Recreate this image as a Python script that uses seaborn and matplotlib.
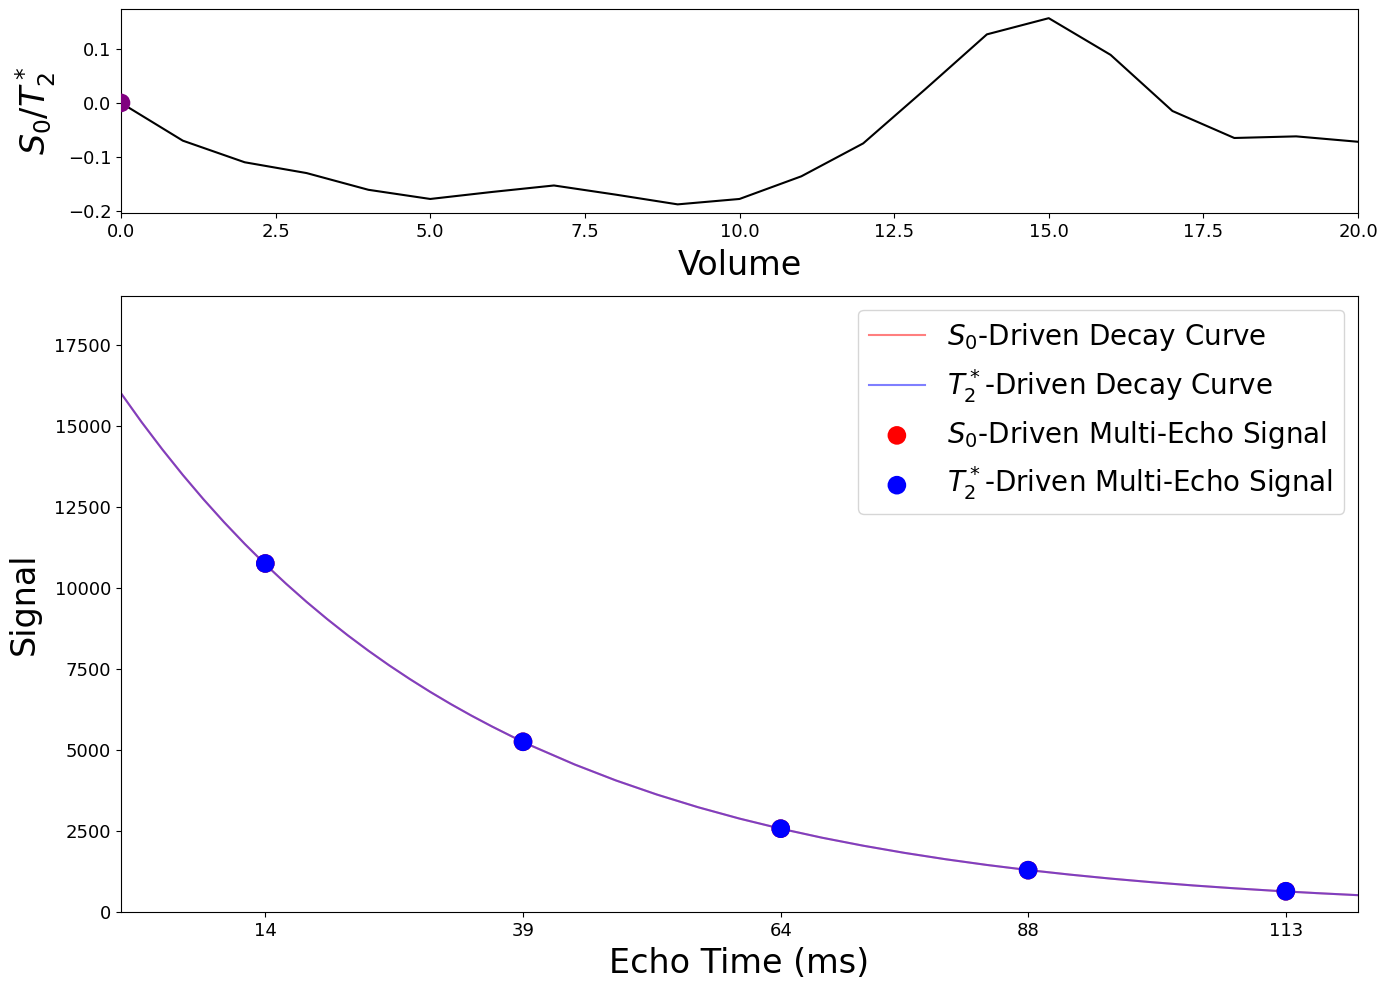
import numpy as np
import pandas as pd
import matplotlib
matplotlib.use("Agg")
import matplotlib.pyplot as plt
import seaborn as sns

# ---- data: top panel (S0/T2* ratio per volume) ----
volume = list(range(21))
ratio = [0.000, -0.070, -0.110, -0.130, -0.161, -0.178, -0.165, -0.153, -0.170,
         -0.188, -0.178, -0.136, -0.075, 0.025, 0.127, 0.157, 0.089, -0.015,
         -0.065, -0.062, -0.072]

# ---- data: bottom panel (decay curves) ----
curve_te = [0, 2, 4, 6, 8, 10, 12, 14, 16, 18, 20, 22, 24, 26, 28, 30, 32, 34, 36,
            38, 40, 44, 48, 52, 56, 60, 64, 68, 72, 76, 80, 84, 88, 92, 96, 100,
            104, 108, 112, 116, 120]
curve_s0 = [16000, 15110, 14272, 13479, 12730, 12023, 11355, 10724, 10129, 9566,
            9035, 8533, 8059, 7611, 7189, 6789, 6412, 6056, 5720, 5402, 5102,
            4551, 4059, 3621, 3230, 2881, 2570, 2292, 2045, 1824, 1627, 1451, 1294,
            1155, 1030, 919, 819, 731, 652, 582, 519]
curve_t2 = list(curve_s0)

echo_times = [14, 39, 64, 88, 113]
signal_s0 = [10750, 5250, 2570, 1290, 640]
signal_t2 = [10750, 5250, 2570, 1290, 640]
echo_labels = ["14", "39", "64", "88", "113"]

fig = plt.figure(figsize=(13.89, 9.89), dpi=100)
ax1 = fig.add_axes([121/1389, 1-213/989, 1237/1389, 204/989])
ax2 = fig.add_axes([121/1389, 1-912/989, 1237/1389, 616/989])

# top panel
top_df = pd.DataFrame({"volume": volume, "ratio": ratio})
sns.lineplot(data=top_df, x="volume", y="ratio", color="black", ax=ax1, lw=1.5)
sns.scatterplot(x=[volume[0]], y=[ratio[0]], color="purple", s=180, ax=ax1,
                edgecolor="none", zorder=5)
ax1.set_xlim(0, 20)
ax1.set_xticks([0, 2.5, 5, 7.5, 10, 12.5, 15, 17.5, 20])
ax1.set_xticklabels(["0.0", "2.5", "5.0", "7.5", "10.0", "12.5", "15.0", "17.5", "20.0"])
ax1.set_yticks([-0.2, -0.1, 0.0, 0.1])
ax1.set_ylim(-0.204, 0.174)
ax1.set_xlabel("Volume", fontsize=24, labelpad=6)
ax1.set_ylabel(r"$S_0/T^*_2$", fontsize=24, labelpad=7)
ax1.tick_params(labelsize=13)

# bottom panel
sns.lineplot(x=curve_te, y=curve_s0, color="red", alpha=0.5, lw=1.5, ax=ax2,
             label=r"$S_0$-Driven Decay Curve")
sns.lineplot(x=curve_te, y=curve_t2, color="blue", alpha=0.5, lw=1.5, ax=ax2,
             label=r"$T_2^*$-Driven Decay Curve")
sns.scatterplot(x=echo_times, y=signal_s0, color="red", s=180, edgecolor="none",
                ax=ax2, label=r"$S_0$-Driven Multi-Echo Signal", zorder=4)
sns.scatterplot(x=echo_times, y=signal_t2, color="blue", s=180, edgecolor="none",
                ax=ax2, label=r"$T_2^*$-Driven Multi-Echo Signal", zorder=5)
ax2.set_xlim(0, 120)
ax2.set_ylim(0, 19000)
ax2.set_xticks(echo_times)
ax2.set_xticklabels(echo_labels)
ax2.set_yticks([0, 2500, 5000, 7500, 10000, 12500, 15000, 17500])
ax2.set_xlabel("Echo Time (ms)", fontsize=24, labelpad=5)
ax2.set_ylabel("Signal", fontsize=24, labelpad=10)
ax2.tick_params(labelsize=13)
ax2.legend(loc="upper right", fontsize=20, markerscale=1.0)

fig.savefig("out.png", dpi=100)
